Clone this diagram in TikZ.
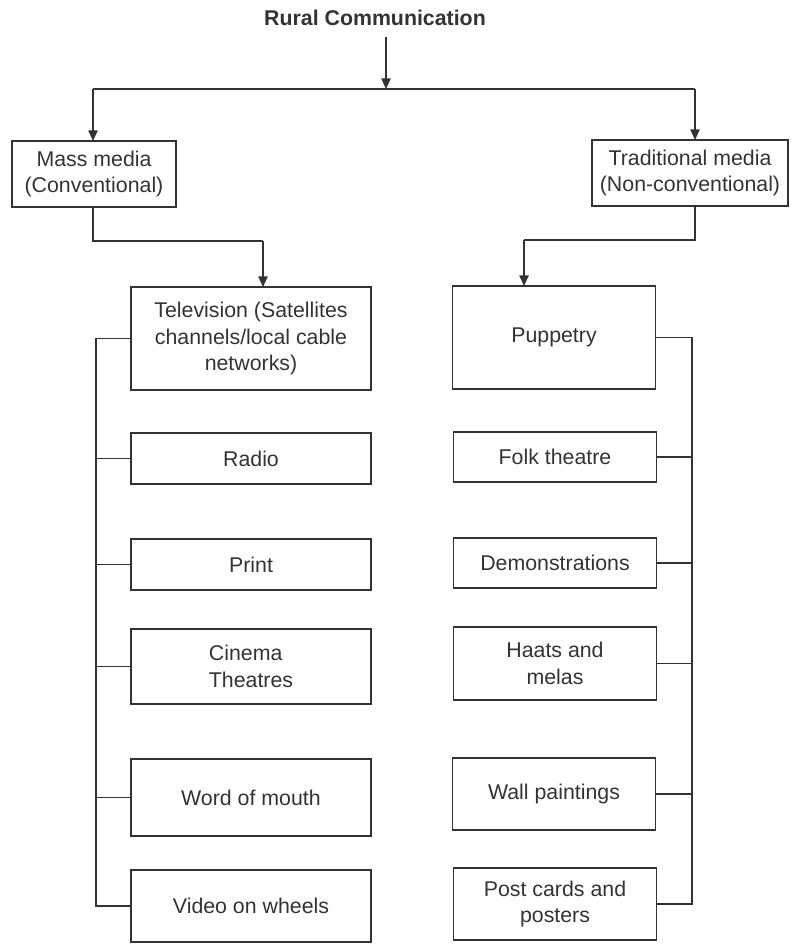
\documentclass[tikz,border=0pt]{standalone}
\usepackage{fontspec}
\setmainfont{Liberation Sans}
\usetikzlibrary{arrows.meta}
\definecolor{ink}{HTML}{333333}
\tikzset{
  box/.style={draw=ink, line width=1.3pt, inner sep=0pt, outer sep=0pt, align=center,
    text=ink, font=\fontsize{16}{20}\selectfont},
  lcol/.style={box, minimum width=180pt},
  rcol/.style={box, minimum width=152.25pt},
  conn/.style={draw=ink, line width=1.3pt},
  arr/.style={conn, -{Triangle[length=8pt,width=7pt]}}
}
\begin{document}
\begin{tikzpicture}[x=0.75pt,y=-0.75pt]
\useasboundingbox (0,0) rectangle (790,944);
\node[text=ink, font=\bfseries\fontsize{16}{19}\selectfont] (title) at (375,18) {Rural Communication};
\coordinate (top) at (386,37);
\coordinate (mid) at (386,89);
\coordinate (hl) at (93,89);
\coordinate (hr) at (695,89);

\node[box, minimum width=123pt, minimum height=49.5pt] (mass) at (94,174) {Mass media\\(Conventional)};
\node[box, minimum width=147pt, minimum height=49.5pt] (trad) at (690,173) {Traditional media\\(Non-conventional)};

\node[lcol, minimum height=77.25pt] (tv) at (251,338.5) {Television (Satellites\\channels/local cable\\networks)};
\node[lcol, minimum height=38.25pt] (radio) at (251,458.5) {Radio};
\node[lcol, minimum height=38.25pt] (print) at (251,564.5) {Print};
\node[lcol, minimum height=56.25pt, align=left] (cinema) at (251,666.5) {Cinema\\Theatres};
\node[lcol, minimum height=57.75pt] (wom) at (251,797.5) {Word of mouth};
\node[lcol, minimum height=54pt] (video) at (251,906) {Video on wheels};

\node[rcol, minimum height=77.25pt] (pup) at (554,337.5) {Puppetry};
\node[rcol, minimum height=37.5pt] (folk) at (555,457) {Folk theatre};
\node[rcol, minimum height=37.5pt] (demo) at (555,563) {Demonstrations};
\node[rcol, minimum height=54.75pt] (haats) at (555,663.5) {Haats and\\melas};
\node[rcol, minimum height=54pt] (wall) at (554,794) {Wall paintings};
\node[rcol, minimum height=54pt] (post) at (555,904) {Post cards and\\posters};

% top distribution
\draw[arr] (top) -- (mid);
\draw[conn] (hl) -- (hr);
\draw[arr] (hl) -- (mass.north -| hl);
\draw[arr] (hr) -- (trad.north -| hr);

% to columns
\coordinate (ml) at (93,241);
\coordinate (mr) at (263,241);
\draw[conn] (mass.south -| ml) -- (ml) -- (mr);
\draw[arr] (mr) -- (tv.north -| mr);
\coordinate (tl) at (695,240);
\coordinate (tr) at (524,240);
\draw[conn] (trad.south -| tl) -- (tl) -- (tr);
\draw[arr] (tr) -- (pup.north -| tr);

% left trunk
\coordinate (lt) at (96,338.5);
\coordinate (lb) at (96,906);
\draw[conn] (tv.west) -- (lt) -- (lb) -- (video.west);
\draw[conn] (radio.west) -- (radio.west -| lt);
\draw[conn] (print.west) -- (print.west -| lt);
\draw[conn] (cinema.west) -- (cinema.west -| lt);
\draw[conn] (wom.west) -- (wom.west -| lt);

% right trunk
\coordinate (rt) at (692,337.5);
\coordinate (rb) at (692,904);
\draw[conn] (pup.east) -- (rt) -- (rb) -- (post.east);
\draw[conn] (folk.east) -- (folk.east -| rt);
\draw[conn] (demo.east) -- (demo.east -| rt);
\draw[conn] (haats.east) -- (haats.east -| rt);
\draw[conn] (wall.east) -- (wall.east -| rt);
\end{tikzpicture}
\end{document}
